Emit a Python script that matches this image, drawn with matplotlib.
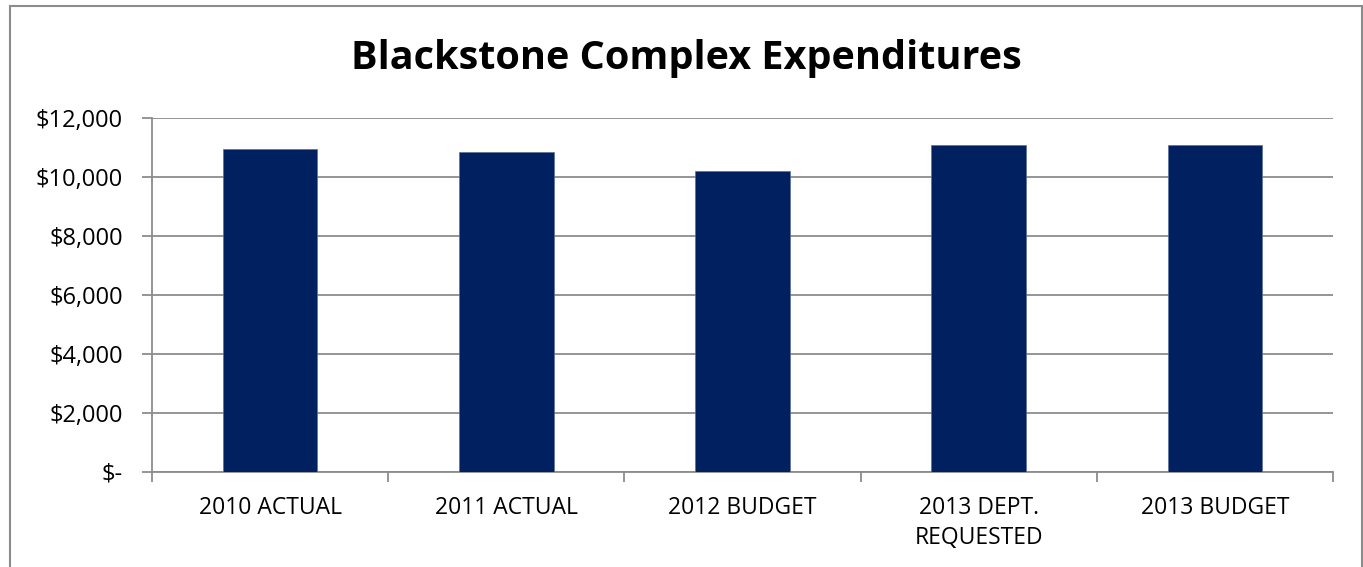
import matplotlib.pyplot as plt
from matplotlib.patches import Rectangle
import numpy as np

categories = ["2010 ACTUAL", "2011 ACTUAL", "2012 BUDGET", "2013 DEPT.\nREQUESTED", "2013 BUDGET"]
expenditures = [10950, 10850, 10200, 11090, 11090]
y_ticks = [0, 2000, 4000, 6000, 8000, 10000, 12000]
y_labels = ["$-", "$2,000", "$4,000", "$6,000", "$8,000", "$10,000", "$12,000"]

plt.rcParams['font.family'] = ['Open Sans', 'DejaVu Sans']

fig = plt.figure(figsize=(13.63, 5.67), dpi=100)
ax = fig.add_axes([152 / 1363, 1 - 472 / 567, (1333 - 152) / 1363, (472 - 118) / 567])

# chart outer border
fig.patches.append(Rectangle((10 / 1363, -0.05), (1362 - 10) / 1363, 1 - 6 / 567 + 0.05,
                             transform=fig.transFigure, fill=False, edgecolor="#8c8c8c", linewidth=1.5))

x = np.arange(len(categories))
ax.bar(x, expenditures, width=0.4, color="#002060", edgecolor="#5a6f99", linewidth=0.5, zorder=3)

ax.set_xlim(-0.5, len(categories) - 0.5)
ax.set_ylim(0, 12000)
ax.set_yticks(y_ticks)
ax.set_yticklabels(y_labels, fontsize=17)
ax.yaxis.grid(True, color="#8c8c8c", linewidth=1.3, zorder=0)

ax.set_xticks(x)
ax.set_xticklabels(categories, fontsize=16.5, linespacing=1.35)
ax.tick_params(axis="x", length=0, pad=17)
ax.set_xticks(np.arange(-0.5, len(categories)), minor=True)
ax.tick_params(axis="x", which="minor", length=7, color="#8c8c8c", width=1.3)
ax.tick_params(axis="y", length=7, color="#8c8c8c", width=1.3, pad=14)

for s in ["top", "right"]:
    ax.spines[s].set_visible(False)
for s in ["left", "bottom"]:
    ax.spines[s].set_color("#8c8c8c")
    ax.spines[s].set_linewidth(1.3)

fig.text(686 / 1363, 1 - 58 / 567, "Blackstone Complex Expenditures", ha="center", va="center",
         fontsize=28.5, fontweight="bold")

fig.savefig("out.png", dpi=100)
